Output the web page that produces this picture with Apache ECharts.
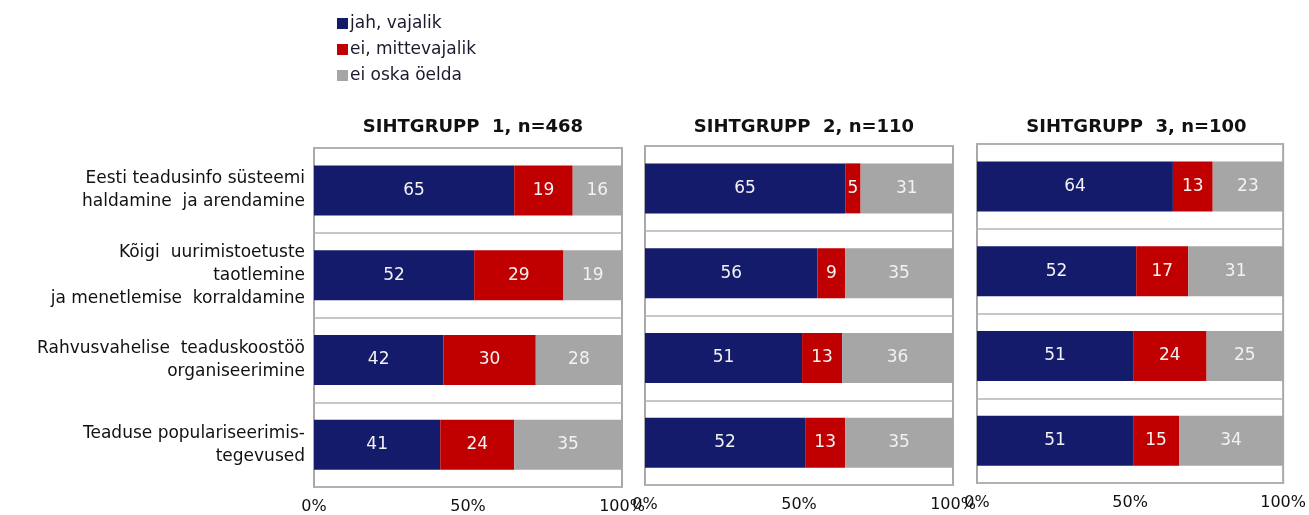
<!DOCTYPE html>
<html>
<head>
<meta charset="utf-8">
<script src="https://cdn.jsdelivr.net/npm/echarts@6/dist/echarts.min.js"></script>
<style>
  html, body { margin: 0; padding: 0; background: #fff; }
  #chart { width: 1309px; height: 515px; }
</style>
</head>
<body>
<div id="chart"></div>
<script>
var categories = [
  'Eesti teadusinfo süsteemi\nhaldamine  ja arendamine',
  'Kõigi  uurimistoetuste\ntaotlemine\nja menetlemise  korraldamine',
  'Rahvusvahelise  teaduskoostöö\norganiseerimine',
  'Teaduse populariseerimis-\ntegevused'
];
var seriesNames = ['jah, vajalik', 'ei, mittevajalik', 'ei oska öelda'];
var panelTitles = ['SIHTGRUPP  1, n=468', 'SIHTGRUPP  2, n=110', 'SIHTGRUPP  3, n=100'];

// group 1
var g1Jah = [65, 52, 42, 41];
var g1Ei = [19, 29, 30, 24];
var g1Oska = [16, 19, 28, 35];
// group 2
var g2Jah = [65, 56, 51, 52];
var g2Ei = [5, 9, 13, 13];
var g2Oska = [31, 35, 36, 35];
// group 3
var g3Jah = [64, 52, 51, 51];
var g3Ei = [13, 17, 24, 15];
var g3Oska = [23, 31, 25, 34];

var xTicks = ['0%', '50%', '100%'];

var colors = ['#151b6b', '#c00000', '#a6a6a6'];
var panelData = [
  [g1Jah, g1Ei, g1Oska],
  [g2Jah, g2Ei, g2Oska],
  [g3Jah, g3Ei, g3Oska]
];

// frame positions of each panel
var panels = [
  { left: 314, top: 148, width: 308, height: 339 },
  { left: 645, top: 146, width: 308, height: 339 },
  { left: 977, top: 144, width: 309, height: 339 }
];

var font = 'DejaVu Sans';
var myChart = echarts.init(document.getElementById('chart'));

var grids = [], xAxes = [], yAxes = [], series = [], titles = [];

panels.forEach(function (p, i) {
  grids.push({
    left: p.left, top: p.top, width: p.width, height: p.height,
    show: true, borderColor: '#a9a9a9', borderWidth: 2, backgroundColor: '#fff'
  });
  titles.push({
    text: panelTitles[i],
    left: p.left + p.width / 2,
    top: 113,
    textAlign: 'center',
    textStyle: { fontFamily: font, fontSize: 18, fontWeight: 'bold', color: '#111' }
  });
  xAxes.push({
    gridIndex: i, type: 'value', min: 0, max: 100, interval: 50,
    axisLine: { show: false }, axisTick: { show: false }, splitLine: { show: false },
    axisLabel: {
      margin: 12, color: '#111', fontFamily: font, fontSize: 16,
      formatter: function (v) { return xTicks[v / 50]; }
    }
  });
  yAxes.push({
    gridIndex: i, type: 'category', data: categories, inverse: true,
    axisLine: { show: false }, axisTick: { show: false },
    splitLine: { show: true, lineStyle: { color: '#b4b4b4', width: 1.5 } },
    axisLabel: {
      show: i === 0, margin: 9, color: '#111', fontFamily: font, fontSize: 17,
      lineHeight: 23, align: 'right'
    }
  });
  panelData[i].forEach(function (vals, k) {
    series.push({
      name: seriesNames[k],
      type: 'bar',
      stack: 'g' + i,
      xAxisIndex: i,
      yAxisIndex: i,
      barWidth: 50,
      data: vals,
      itemStyle: { color: colors[k] },
      label: {
        show: true, position: 'inside', color: '#f2f2f2',
        fontFamily: font, fontSize: 17
      }
    });
  });
});

var option = {
  animation: false,
  backgroundColor: '#fff',
  title: titles,
  legend: {
    data: seriesNames,
    orient: 'vertical',
    left: 332,
    top: 10,
    itemWidth: 11,
    itemHeight: 11,
    itemGap: 9,
    icon: 'rect',
    textStyle: { fontFamily: font, fontSize: 17, color: '#1a1a2e', padding: [0, 0, 0, -3] }
  },
  grid: grids,
  xAxis: xAxes,
  yAxis: yAxes,
  series: series
};

myChart.setOption(option);
</script>
</body>
</html>
